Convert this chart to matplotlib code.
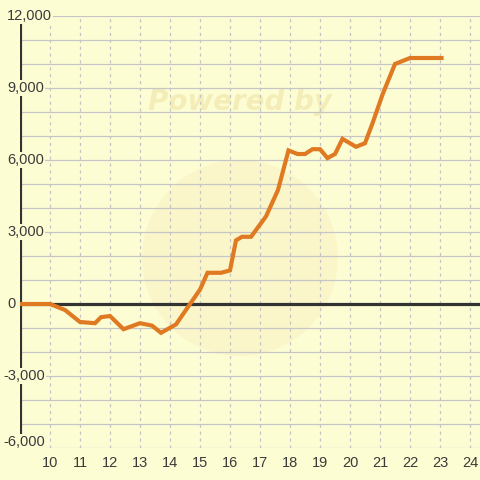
import matplotlib
matplotlib.use('Agg')
import matplotlib.pyplot as plt
from matplotlib.patches import Ellipse

# data
xs = [9, 10, 10.5, 11, 11.5, 11.7, 12, 12.45, 13, 13.4, 13.7, 14.2, 14.75, 15.0,
      15.25, 15.7, 16.0, 16.2, 16.4, 16.7, 17.2, 17.6, 17.95, 18.25, 18.5, 18.75,
      19.0, 19.25, 19.5, 19.75, 20.2, 20.5, 20.75, 21.1, 21.5, 22.0, 23.05]
ys = [0, 0, -250, -750, -800, -550, -500, -1050, -800, -900, -1200, -850, 150, 600,
      1300, 1300, 1400, 2650, 2800, 2800, 3650, 4750, 6400, 6250, 6250, 6450,
      6450, 6080, 6250, 6880, 6550, 6700, 7530, 8780, 10000, 10250, 10250]

x_ticks = list(range(10, 25))
y_major = [-6000, -3000, 0, 3000, 6000, 9000, 12000]
y_grid = list(range(-6000, 13000, 1000))

bg = '#fdfdd4'
txt = '#3a3a3a'

fig = plt.figure(figsize=(4.8, 4.8), dpi=100)
fig.patch.set_facecolor(bg)
ax = fig.add_axes([20 / 480, 32 / 480, 460 / 480, 432 / 480])
ax.set_facecolor(bg)
ax.set_xlim(9, 9 + 460 / 30)
ax.set_ylim(-6000, 12000)
for s in ax.spines.values():
    s.set_visible(False)

# faint watermark
ax.add_patch(Ellipse((0.478, 0.44), 0.426, 0.454, transform=ax.transAxes,
                     facecolor='#f8f1c2', edgecolor='none', alpha=0.55, zorder=0.5))
ax.text(0.478, 0.80, 'Powered by', transform=ax.transAxes, ha='center', va='center',
        fontsize=20, fontweight='heavy', style='italic', color='#f4edb8',
        family='DejaVu Sans', zorder=0.6)

for v in y_grid:
    ax.axhline(v, color='#c6c6c6', lw=0.9, zorder=1)
for v in x_ticks:
    ax.axvline(v, color='#c4c4c4', lw=0.9, ls=(0, (2.5, 3)), zorder=1)

ax.axhline(0, color='#333333', lw=2.3, zorder=2)
ax.axvline(9, color='#333333', lw=3, zorder=2)

ax.plot(xs, ys, color='#e07a22', lw=3, solid_joinstyle='miter', zorder=3)

ax.set_yticks([])
ax.set_xticks(x_ticks)
ax.set_xticklabels([str(v) for v in x_ticks], fontsize=10.5, color=txt,
                   family='Liberation Sans')
ax.tick_params(axis='x', length=0, pad=6)

for v in y_major:
    lx = 3 if v < 0 else 7
    yy = v + 250 if v == -6000 else v
    fig.text(lx / 480, (32 + (yy + 6000) / 18000 * 432) / 480, f'{v:,}',
             ha='left', va='center', fontsize=10.5, color=txt, family='Liberation Sans',
             bbox=dict(facecolor=bg, edgecolor='none', pad=1), zorder=5)

fig.savefig('out.png', dpi=100, facecolor=bg)
